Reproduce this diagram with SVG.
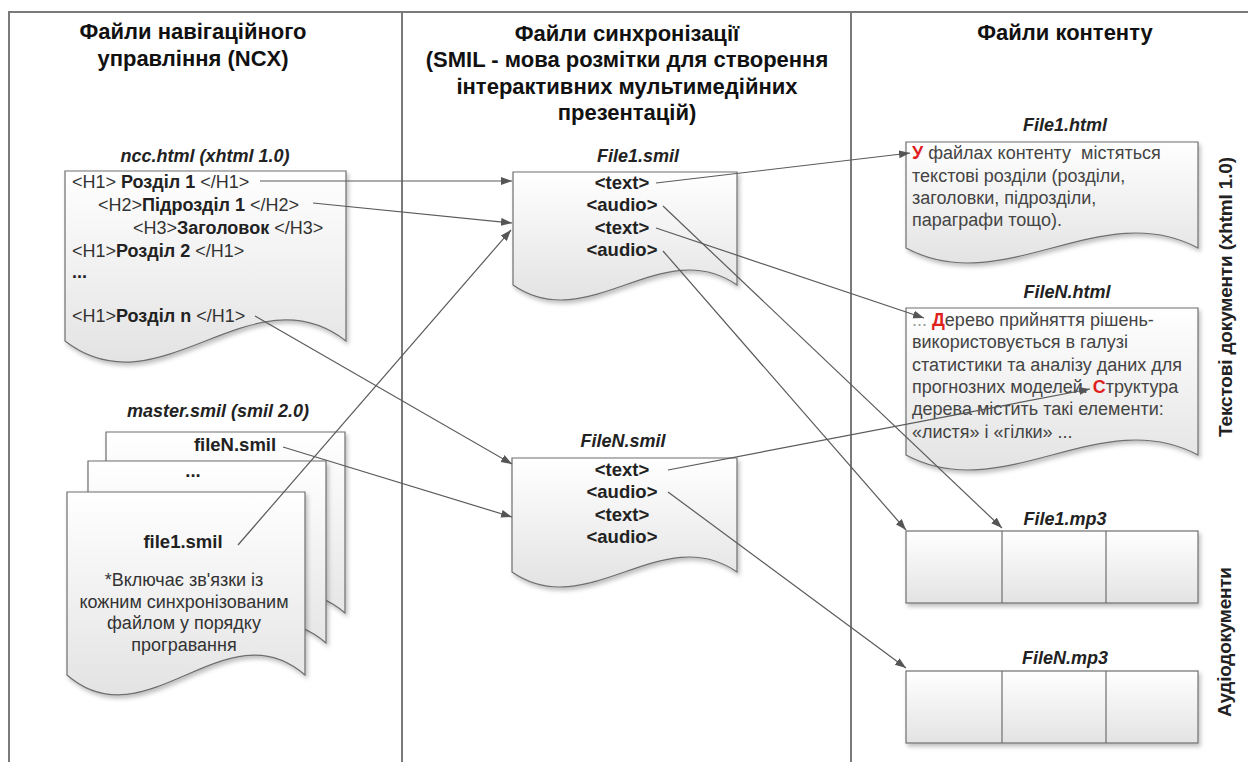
<svg xmlns="http://www.w3.org/2000/svg" width="1248" height="762" viewBox="0 0 1248 762">
<style>
.frame{fill:none;stroke:#7a7a7a;stroke-width:2}
.doc{fill:url(#g);stroke:#6e6e6e;stroke-width:1.2;filter:url(#sh)}
.hdr{font-family:"Liberation Sans",Arial,sans-serif;font-size:22px;font-weight:bold;fill:#111;text-anchor:middle}
.lbl{font-family:"Liberation Sans",Arial,sans-serif;font-size:18px;font-weight:bold;font-style:italic;fill:#222;text-anchor:middle}
.t{font-family:"Liberation Sans",Arial,sans-serif;font-size:18px;fill:#333}
.b{font-weight:bold;fill:#222}
.tc{font-family:"Liberation Sans",Arial,sans-serif;font-size:18.5px;font-weight:bold;fill:#222;text-anchor:middle}
.ht{font-family:"Liberation Sans",Arial,sans-serif;font-size:18px;fill:#444;white-space:pre}
.red{fill:#e0201b;font-weight:bold}
.vt{font-family:"Liberation Sans",Arial,sans-serif;font-size:19px;font-weight:bold;fill:#222;text-anchor:middle}
.mt{font-family:"Liberation Sans",Arial,sans-serif;font-size:18px;fill:#333;text-anchor:middle}
.con{fill:none;stroke:#5a5a5a;stroke-width:1.2;marker-end:url(#ah)}
.cell{fill:none;stroke:#6e6e6e;stroke-width:1.2}
</style>
<defs>
<linearGradient id="g" x1="0" y1="0" x2="0" y2="1">
<stop offset="0" stop-color="#ffffff"/>
<stop offset="1" stop-color="#e3e3e3"/>
</linearGradient>
<filter id="sh" x="-10%" y="-10%" width="125%" height="130%">
<feDropShadow dx="2" dy="3" stdDeviation="2" flood-color="#000" flood-opacity="0.25"/>
</filter>
<marker id="ah" markerUnits="userSpaceOnUse" markerWidth="12" markerHeight="9" refX="11" refY="4" orient="auto">
<path d="M0,0 L11,4 L0,8 z" fill="#555"/>
</marker>
</defs>
<rect width="1248" height="762" fill="#fff"/>
<g id="frame">
<path class="frame" d="M9,762 V12 H1248"/>
<line class="frame" x1="402" y1="12" x2="402" y2="762"/>
<line class="frame" x1="851" y1="12" x2="851" y2="762"/>
</g>
<g id="headers">
<text class="hdr" x="193" y="39">Файли навігаційного</text>
<text class="hdr" x="193" y="66">управління (NCX)</text>
<text class="hdr" x="627" y="41">Файли синхронізації</text>
<text class="hdr" x="627" y="67">(SMIL - мова розмітки для створення</text>
<text class="hdr" x="627" y="94">інтерактивних мультимедійних</text>
<text class="hdr" x="627" y="120">презентацій)</text>
<text class="hdr" x="1065" y="40">Файли контенту</text>
</g>
<g id="ncc">
<text class="lbl" x="205" y="162">ncc.html (xhtml 1.0)</text>
<path class="doc" d="M65,171 H346 V341 C252,268 159,414 65,341 Z"/>
<text class="t" x="72" y="188">&lt;H1&gt; <tspan class="b">Розділ 1</tspan> &lt;/H1&gt;</text>
<text class="t" x="98" y="211">&lt;H2&gt;<tspan class="b">Підрозділ 1</tspan> &lt;/H2&gt;</text>
<text class="t" x="133" y="234">&lt;H3&gt;<tspan class="b">Заголовок</tspan> &lt;/H3&gt;</text>
<text class="t" x="72" y="257">&lt;H1&gt;<tspan class="b">Розділ 2</tspan> &lt;/H1&gt;</text>
<text class="t b" x="72" y="278">...</text>
<text class="t" x="72" y="322">&lt;H1&gt;<tspan class="b">Розділ n</tspan> &lt;/H1&gt;</text>
</g>
<g id="master">
<text class="lbl" x="218" y="417">master.smil (smil 2.0)</text>
<path class="doc" d="M106,432 H345 V613 C265,544 186,682 106,613 Z"/>
<path class="doc" d="M88,461 H326 V643 C247,574 167,712 88,643 Z"/>
<path class="doc" d="M67,492 H305 V675 C226,606 146,744 67,675 Z"/>
<text class="tc" x="235" y="451">fileN.smil</text>
<text class="tc" x="193" y="477">...</text>
<text class="tc" x="183" y="548">file1.smil</text>
<text class="mt" x="184" y="586">*Включає зв'язки із</text>
<text class="mt" x="184" y="608">кожним синхронізованим</text>
<text class="mt" x="184" y="629">файлом у порядку</text>
<text class="mt" x="184" y="651">програвання</text>
</g>
<g id="file1smil">
<text class="lbl" x="638" y="162">File1.smil</text>
<path class="doc" d="M513,172 H737 V285 C662,233 588,337 513,285 Z"/>
<text class="tc" x="622" y="189">&lt;text&gt;</text>
<text class="tc" x="622" y="211">&lt;audio&gt;</text>
<text class="tc" x="622" y="234">&lt;text&gt;</text>
<text class="tc" x="622" y="256">&lt;audio&gt;</text>
</g>
<g id="fileNsmil">
<text class="lbl" x="623" y="447">FileN.smil</text>
<path class="doc" d="M512,458 H737 V572 C662,520 587,624 512,572 Z"/>
<text class="tc" x="622" y="476">&lt;text&gt;</text>
<text class="tc" x="622" y="498">&lt;audio&gt;</text>
<text class="tc" x="622" y="521">&lt;text&gt;</text>
<text class="tc" x="622" y="543">&lt;audio&gt;</text>
</g>
<g id="file1html">
<text class="lbl" x="1065" y="131">File1.html</text>
<path class="doc" d="M906,142 H1198 V248 C1101,196 1003,300 906,248 Z"/>
<text class="ht" x="912" y="159"><tspan class="red">У</tspan> файлах контенту  містяться</text>
<text class="ht" x="912" y="182">текстові розділи (розділи,</text>
<text class="ht" x="912" y="204">заголовки, підрозділи,</text>
<text class="ht" x="912" y="226">параграфи тощо).</text>
</g>
<g id="fileNhtml">
<text class="lbl" x="1067" y="298">FileN.html</text>
<path class="doc" d="M906,308 H1198 V455 C1101,403 1003,507 906,455 Z"/>
<text class="ht" x="912" y="326"><tspan fill="#999">...</tspan> <tspan class="red">Д</tspan>ерево прийняття рішень-</text>
<text class="ht" x="912" y="348">використовується в галузі</text>
<text class="ht" x="912" y="371">статистики та аналізу даних для</text>
<text class="ht" x="912" y="393">прогнозних моделей. <tspan class="red">С</tspan>труктура</text>
<text class="ht" x="912" y="415">дерева містить такі елементи:</text>
<text class="ht" x="912" y="438">«листя» і «гілки» ...</text>
</g>
<g id="file1mp3">
<text class="lbl" x="1065" y="525">File1.mp3</text>
<rect x="906" y="531" width="292" height="72" fill="url(#g)" stroke="#6e6e6e" stroke-width="1.2" filter="url(#sh)"/>
<line class="cell" x1="1002" y1="531" x2="1002" y2="603"/>
<line class="cell" x1="1106" y1="531" x2="1106" y2="603"/>
</g>
<g id="fileNmp3">
<text class="lbl" x="1065" y="664">FileN.mp3</text>
<rect x="906" y="671" width="292" height="72" fill="url(#g)" stroke="#6e6e6e" stroke-width="1.2" filter="url(#sh)"/>
<line class="cell" x1="1002" y1="671" x2="1002" y2="743"/>
<line class="cell" x1="1106" y1="671" x2="1106" y2="743"/>
</g>
<g id="sidelabels">
<text class="vt" transform="translate(1232,297) rotate(-90)" textLength="280" lengthAdjust="spacing">Текстові документи (xhtml 1.0)</text>
<text class="vt" transform="translate(1231,642) rotate(-90)" textLength="150" lengthAdjust="spacing">Аудіодокументи</text>
</g>
<g id="connectors">
<line class="con" x1="260" y1="181" x2="512" y2="181"/>
<line class="con" x1="313" y1="203" x2="512" y2="223"/>
<line class="con" x1="255" y1="316" x2="512" y2="464"/>
<line class="con" x1="283" y1="447" x2="512" y2="517"/>
<line class="con" x1="238" y1="545" x2="511" y2="230"/>
<line class="con" x1="656" y1="183" x2="910" y2="153"/>
<line class="con" x1="663" y1="206" x2="1002" y2="528"/>
<line class="con" x1="656" y1="228" x2="924" y2="318"/>
<line class="con" x1="663" y1="251" x2="906" y2="530"/>
<line class="con" x1="668" y1="470" x2="1090" y2="389"/>
<line class="con" x1="668" y1="492" x2="906" y2="668"/>
</g>
</svg>
